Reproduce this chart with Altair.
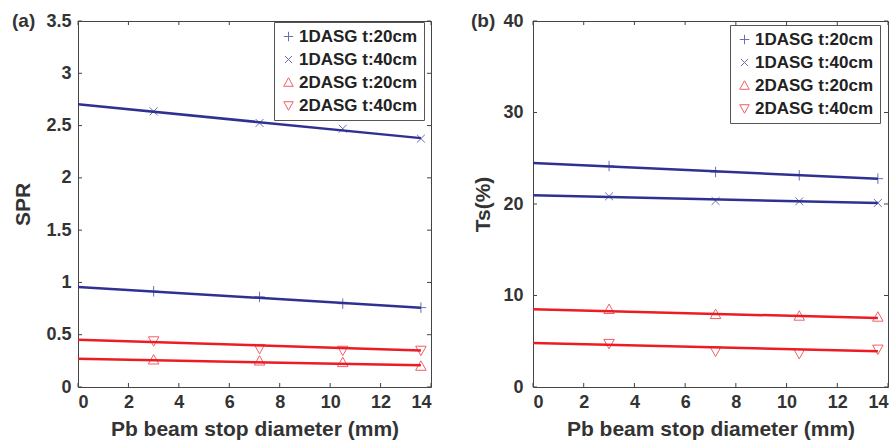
import altair as alt
import pandas as pd

# ---------------- data ----------------
series = ["1DASG t:20cm", "1DASG t:40cm", "2DASG t:20cm", "2DASG t:40cm"]
x_vals = [3.0, 7.2, 10.5, 13.6]
fit_x = [0.0, 13.6]

# panel (a): SPR
spr_1d20 = [0.915, 0.861, 0.797, 0.759]
spr_1d40 = [2.636, 2.525, 2.470, 2.375]
spr_2d20 = [0.260, 0.250, 0.235, 0.200]
spr_2d40 = [0.440, 0.367, 0.350, 0.350]
spr_fit_start = [0.956, 2.703, 0.270, 0.453]
spr_fit_end = [0.759, 2.380, 0.207, 0.350]

# panel (b): Ts(%)
ts_1d20 = [24.15, 23.50, 23.13, 22.77]
ts_1d40 = [20.84, 20.33, 20.29, 20.11]
ts_2d20 = [8.49, 7.94, 7.76, 7.65]
ts_2d40 = [4.74, 3.90, 3.64, 4.12]
ts_fit_start = [24.48, 20.95, 8.49, 4.81]
ts_fit_end = [22.77, 20.11, 7.54, 3.90]

x_ticks = [0, 2, 4, 6, 8, 10, 12, 14]
spr_ticks = [0, 0.5, 1, 1.5, 2, 2.5, 3, 3.5]
ts_ticks = [0, 10, 20, 30, 40]

# ---------------- style ----------------
BLUE = "#2E3192"
RED = "#ED1C24"
TXT = "#333333"
FONT = "Liberation Sans"
H = 366
TICK = 4

colors = [BLUE, BLUE, RED, RED]
shapes = [
    "M-1,0H1M0,-1V1",
    "M-0.75,-0.75L0.75,0.75M-0.75,0.75L0.75,-0.75",
    "M0,-1L1,0.8L-1,0.8Z",
    "M0,1L1,-0.8L-1,-0.8Z",
]


def panel(W, vals, fs, fe, ydom, yticks, yfmt, ytitle, tag, tag_dx, leg_xy, ytitle_pad, ylabel_pad):
    pts = pd.DataFrame(
        [{"series": s, "x": x, "y": v} for s, arr in zip(series, vals) for x, v in zip(x_vals, arr)]
    )
    fit = pd.DataFrame(
        [{"series": s, "grp": c, "x": fit_x[0], "y": a} for s, c, a in zip(series, colors, fs)]
        + [{"series": s, "grp": c, "x": fit_x[1], "y": b} for s, c, b in zip(series, colors, fe)]
    )
    xs = alt.Scale(domain=[0, 14], nice=False, zero=False)
    ys = alt.Scale(domain=ydom, nice=False, zero=False)
    cscale = alt.Scale(domain=series, range=colors)
    sscale = alt.Scale(domain=series, range=shapes)
    xax = alt.Axis(values=x_ticks, title="Pb beam stop diameter (mm)",
                   labelPadding=6, titlePadding=7)
    yax = alt.Axis(values=yticks, title=ytitle, format=yfmt,
                   labelPadding=ylabel_pad, titlePadding=ytitle_pad)

    def fit_layer(col):
        return alt.Chart(fit).transform_filter(alt.datum.grp == col).mark_line(
            strokeWidth=2.5, color=col
        ).encode(
            x=alt.X("x:Q", scale=xs, axis=xax),
            y=alt.Y("y:Q", scale=ys, axis=yax),
            detail="series:N",
        )

    points = alt.Chart(pts).mark_point(filled=False, size=110, strokeWidth=1).encode(
        x=alt.X("x:Q", scale=xs, axis=xax),
        y=alt.Y("y:Q", scale=ys, axis=yax),
        color=alt.Color("series:N", scale=cscale,
                        legend=alt.Legend(title=None, orient="none",
                                          legendX=leg_xy[0], legendY=leg_xy[1])),
        shape=alt.Shape("series:N", scale=sscale),
    )
    ytk = pd.DataFrame({"y": yticks})
    xtk = pd.DataFrame({"x": x_ticks})
    tl = alt.Chart(ytk).mark_rule(color="#444", strokeWidth=1).encode(
        y=alt.Y("y:Q", scale=ys, axis=yax), x=alt.value(0), x2=alt.value(TICK))
    tr = alt.Chart(ytk).mark_rule(color="#444", strokeWidth=1).encode(
        y=alt.Y("y:Q", scale=ys, axis=yax), x=alt.value(W - TICK), x2=alt.value(W))
    tb = alt.Chart(xtk).mark_rule(color="#444", strokeWidth=1).encode(
        x=alt.X("x:Q", scale=xs, axis=xax), y=alt.value(H - TICK), y2=alt.value(H))
    tt = alt.Chart(xtk).mark_rule(color="#444", strokeWidth=1).encode(
        x=alt.X("x:Q", scale=xs, axis=xax), y=alt.value(0), y2=alt.value(TICK))
    label = alt.Chart(alt.Data(values=[{"t": tag}])).mark_text(
        align="left", baseline="middle", font=FONT, fontSize=19, fontWeight="bold", color=TXT
    ).encode(text="t:N", x=alt.value(tag_dx), y=alt.value(0))

    return alt.layer(fit_layer(BLUE), fit_layer(RED), points, tl, tr, tb, tt, label).properties(
        width=W, height=H)


left = panel(353, [spr_1d20, spr_1d40, spr_2d20, spr_2d40], spr_fit_start, spr_fit_end,
             [0, 3.5], spr_ticks, "~r", "SPR", "(a)", -66, (196, 1), 12, 7)
right = panel(355, [ts_1d20, ts_1d40, ts_2d20, ts_2d40], ts_fit_start, ts_fit_end,
              [0, 40], ts_ticks, "d", "Ts(%)", "(b)", -62, (197, 4), 9, 10)

chart = alt.hconcat(left, right, spacing=38).resolve_scale(
    color="independent", shape="independent"
).properties(
    padding={"left": 11, "top": 11, "right": 0, "bottom": 0}
).configure_view(
    stroke="#444", strokeWidth=1
).configure_axis(
    grid=False, ticks=False, domain=False,
    labelFont=FONT, labelFontSize=18, labelFontWeight="bold", labelColor=TXT,
    titleFont=FONT, titleFontSize=21, titleFontWeight="bold", titleColor=TXT,
).configure_legend(
    labelFont=FONT, labelFontSize=17, labelFontWeight="bold", labelColor="#222",
    strokeColor="#555", fillColor="white", padding=6, rowPadding=5,
    symbolStrokeWidth=1, symbolSize=90, labelOffset=2,
)

chart.save("out.html", embed_options={"renderer": "svg", "actions": False})
